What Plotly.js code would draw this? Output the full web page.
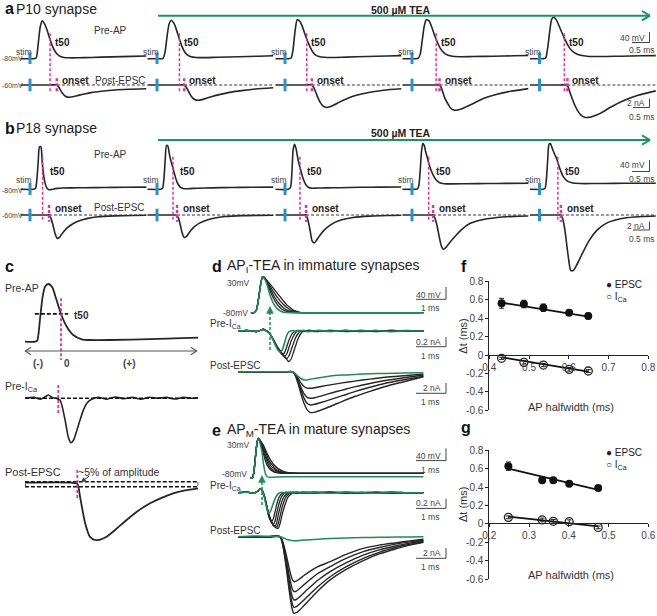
<!DOCTYPE html>
<html><head><meta charset="utf-8">
<script src="https://cdn.plot.ly/plotly-3.0.1.min.js"></script>
<style>html,body{margin:0;padding:0;background:#fff}#chart{width:657px;height:616px}</style>
</head><body><div id="chart"></div>
<script>
// ================= DATA =================
// ---- Panel a: P10 synapse, 5 sweeps (time in ms from stim) ----
const aStim = [0,0,0,0,0];
const aT50 = [0.59,0.66,0.64,0.71,0.73];
const aOnset = [0.79,0.80,0.79,0.81,0.82];
const aApT = [-0.28,0.1,0.18,0.24,0.3,0.36,0.42,0.5,0.58,0.66,0.74,0.82,0.9,1.0,1.15,1.4,1.8,2.4,3.0,3.42];
const aAp1 = [-80,-80,-78,-40,8,25,18,0,-24,-45,-60,-69,-74,-76.5,-77.5,-77.5,-76.5,-75,-73.5,-72.5];
const aAp2 = [-80,-80,-79,-60,-15,18,27,18,-2,-26,-47,-62,-70,-74.5,-76.5,-77,-76,-74.5,-73,-72];
const aAp3 = [-80,-80,-78,-52,0,28,26,12,-10,-30,-48,-62,-70,-74,-76,-76.5,-75.5,-74,-72.5,-71.5];
const aAp4 = [-80,-80,-79,-68,-30,10,28,25,8,-14,-33,-49,-60,-68,-72.5,-74.5,-74,-73,-72,-71];
const aAp5 = [-80,-80,-78,-50,-5,30,35,27,10,-8,-25,-40,-52,-62,-69,-73,-74,-73,-72,-71.5];
const aEpT = [-0.28,0.6,0.78,0.84,0.9,0.96,1.04,1.12,1.22,1.32,1.45,1.6,1.8,2.1,2.5,2.9,3.42];
const aEp1 = [0,0,0,-0.4,-1.2,-1.9,-2.5,-2.7,-2.65,-2.5,-2.25,-2.0,-1.7,-1.4,-1.1,-0.95,-0.84];
const aEp2 = [0,0,0,-0.3,-1.0,-1.9,-2.8,-3.3,-3.4,-3.25,-2.95,-2.6,-2.2,-1.7,-1.25,-0.9,-0.62];
const aEp3 = [0,0,0,-0.5,-1.5,-2.7,-3.9,-4.7,-5.0,-4.85,-4.4,-3.8,-3.1,-2.3,-1.6,-1.15,-0.84];
const aEp4 = [0,0,0,-0.3,-1.4,-2.8,-4.0,-5.0,-5.55,-5.6,-5.35,-4.8,-4.1,-3.0,-2.05,-1.4,-0.8];
const aEp5 = [0,0,0,-0.4,-1.8,-3.0,-4.5,-5.7,-6.7,-7.15,-7.2,-6.9,-6.25,-4.9,-3.4,-2.3,-1.3];

// ---- Panel b: P18 synapse ----
const bStim = [0,0,0,0,0];
const bT50 = [0.37,0.47,0.44,0.49,0.54];
const bOnset = [0.56,0.59,0.62,0.62,0.63];
const bApT = [-0.28,0.1,0.16,0.2,0.24,0.28,0.32,0.36,0.4,0.45,0.5,0.56,0.62,0.7,0.8,0.95,1.2,1.6,2.2,2.8,3.42];
const bAp1 = [-80,-80,-78,-55,-5,38,38,-5,-40,-65,-77,-81,-81,-79,-77.5,-76.5,-76,-75.5,-75,-74.5,-74];
const bAp2 = [-80,-80,-78,-55,0,42,40,20,2,-14,-32,-52,-66,-75,-78.5,-78,-77,-76,-75,-74.5,-74];
const bAp3 = [-80,-80,-75,-40,30,45,35,15,-5,-22,-40,-57,-68,-75,-77,-76.5,-76,-75.5,-74.5,-74,-73.5];
const bAp4 = [-80,-80,-79,-70,-30,25,48,42,25,8,-10,-27,-40,-53,-61,-64.5,-65,-64.5,-64,-63.5,-63];
const bAp5 = [-80,-80,-78,-55,0,45,47,38,28,16,6,-12,-28,-45,-56,-62,-64,-64,-63.5,-63,-63];
const bEpT = [-0.28,0.5,0.56,0.62,0.68,0.74,0.8,0.86,0.92,1.0,1.1,1.25,1.45,1.7,2.0,2.5,3.0,3.42];
const bEp1 = [0,0,0,-0.8,-2.4,-4.2,-5.2,-5.0,-4.4,-3.6,-2.8,-2.0,-1.3,-0.75,-0.4,-0.2,-0.1,-0.07];
const bEp2 = [0,0,0,-0.5,-2.0,-4.0,-5.0,-4.8,-4.2,-3.4,-2.6,-1.8,-1.15,-0.65,-0.35,-0.15,-0.08,-0.05];
const bEp3 = [0,0,0,0,-1.3,-3.5,-5.8,-6.2,-5.7,-4.8,-3.8,-2.7,-1.7,-1.0,-0.55,-0.25,-0.12,-0.07];
const bEp4 = [0,0,0,0,-0.8,-2.5,-4.8,-6.8,-7.6,-7.2,-6.2,-4.9,-3.3,-1.9,-1.15,-0.55,-0.3,-0.22];
const bEp5 = [0,0,0,0,-0.8,-3.0,-6.5,-10.0,-12.3,-12.3,-11.0,-8.7,-5.8,-3.3,-1.7,-0.65,-0.35,-0.22];

// ---- Panel c: schematic (time in ms from t50) ----
const cApT = [-1.06,-0.76,-0.7,-0.62,-0.54,-0.47,-0.37,-0.26,-0.15,0,0.17,0.36,0.61,0.85,1.44,2.62,4.04];
const cApV = [-80,-80,-78,-38.6,5.8,24.9,30,24.3,3.3,-27.2,-51.4,-67.2,-75.4,-76.8,-76.8,-74.9,-72.4];
const cHalfT = [-0.77,0.21];
const cHalfV = [-27,-27];
const cApMark = 0;
const cIcaT = [-1.06,-0.8,-0.6,-0.45,-0.37,-0.26,-0.15,-0.03,0.12,0.21,0.29,0.37,0.47,0.56,0.66,0.76,0.9,1.1,1.35,1.6,1.85,2.1,2.35,2.6,2.85,3.1,3.35,3.6,3.85,4.04];
const cIcaV = [0,0.01,-0.01,0.02,0.037,0.01,0.0,-0.02,-0.244,-0.43,-0.5,-0.47,-0.357,-0.244,-0.13,-0.056,-0.01,0.01,-0.01,0.015,-0.005,0.01,-0.01,0.012,0,0.01,-0.008,0.01,0,0.005];
const cIcaMark = -0.08;
const cEpT = [-1.06,0.3,0.48,0.56,0.71,0.85,1.0,1.15,1.34,1.59,1.93,2.26,2.62,2.94,3.3,3.65,4.04];
const cEpV = [0,0,-0.1,-1.22,-3.54,-4.71,-5.0,-4.96,-4.71,-4.13,-3.25,-2.47,-1.8,-1.34,-0.93,-0.68,-0.49];
const cEpMark = 0.48;
const cBand = [0.09,-0.35];

// ---- Panel d: AP_I-TEA, immature (time in ms) ----
const dApT = [0.42,0.52,0.6,0.68,0.74,0.8,0.86,0.93,1.04,1.15,1.26,1.37,1.48,1.59,1.7,1.8,1.91,2.02,2.2,2.6,3.5,4.5,6.04];
const dApG = [-80,-80,-72,-30,8,30,24,10,-26,-51,-66,-74,-78.5,-79.5,-80,-80,-80,-80,-80,-80,-80,-80,-80];
const dAp1 = [-80,-80,-72,-30,8,30,26,14,-12,-35,-52,-64,-72,-76.5,-78.5,-79.5,-80,-80,-80,-80,-80,-80,-80];
const dAp2 = [-80,-80,-72,-30,8,30,27,16,-4,-25,-42,-55,-65,-72,-76,-78.5,-79.5,-80,-80,-80,-80,-80,-80];
const dAp3 = [-80,-80,-72,-30,8,30,27.5,18,2,-15,-30,-44,-55,-64,-71,-75.5,-78,-79.5,-80,-80,-80,-80,-80];
const dAp4 = [-80,-80,-72,-30,8,30,28,20,8,-5,-18,-31,-44,-56,-65,-72,-76,-78.8,-79.8,-80,-80,-80,-80];
const dIcaT = [0,0.3,0.6,0.72,0.82,0.9,0.99,1.1,1.2,1.3,1.37,1.44,1.51,1.58,1.65,1.72,1.8,1.88,1.96,2.05,2.14,2.3,2.6,3.0,3.5,4.0,4.5,5.0,5.5,6.04];
const dIcaG = [0,0.01,-0.01,0.01,0.035,0.01,-0.02,-0.12,-0.26,-0.38,-0.42,-0.38,-0.25,-0.1,-0.02,0,0.01,-0.01,0.01,0,0.01,-0.01,0.01,-0.005,0.01,0,0.01,-0.01,0.005,0];
const dIca1 = [0,0.01,-0.01,0.01,0.035,0.01,-0.02,-0.12,-0.25,-0.36,-0.42,-0.46,-0.44,-0.33,-0.2,-0.1,-0.03,0,0.01,0,-0.01,0.01,0,0.01,-0.01,0.01,0,0.01,-0.005,0];
const dIca2 = [0,0.01,-0.01,0.01,0.035,0.01,-0.02,-0.12,-0.24,-0.35,-0.41,-0.47,-0.51,-0.47,-0.35,-0.22,-0.11,-0.03,0,0.01,0,-0.01,0.01,0,0.01,-0.01,0,0.01,0,0];
const dIca3 = [0,0.01,-0.01,0.01,0.035,0.01,-0.02,-0.11,-0.23,-0.34,-0.4,-0.46,-0.51,-0.55,-0.51,-0.4,-0.26,-0.13,-0.05,0,0.01,0,-0.01,0.01,0,0.01,-0.01,0,0.01,0];
const dIca4 = [0,0.01,-0.01,0.01,0.035,0.01,-0.02,-0.11,-0.22,-0.33,-0.39,-0.45,-0.51,-0.56,-0.61,-0.57,-0.44,-0.29,-0.15,-0.05,0,0.01,0,-0.01,0.01,0,0.01,-0.01,0,0];
const dEpT = [0,1.0,1.6,1.75,1.85,1.95,2.05,2.15,2.25,2.35,2.5,2.7,3.0,3.4,3.8,4.3,4.8,5.4,6.04];
const dEpG = [0,0,0,0,-0.4,-1.1,-1.7,-2.05,-2.05,-1.9,-1.7,-1.45,-1.1,-0.85,-0.68,-0.52,-0.42,-0.33,-0.25];
const dEp1 = [0,0,0,0,-0.4,-1.5,-2.8,-3.7,-4.1,-4.15,-4.0,-3.7,-3.3,-2.8,-2.35,-1.85,-1.4,-1.0,-0.6];
const dEp2 = [0,0,0,0,-0.5,-2.0,-3.9,-5.5,-6.4,-6.65,-6.5,-6.1,-5.4,-4.6,-3.8,-2.95,-2.2,-1.5,-0.83];
const dEp3 = [0,0,0,0,-0.6,-2.4,-4.6,-6.6,-7.9,-8.3,-8.15,-7.7,-7.0,-6.0,-5.0,-3.9,-2.9,-2.0,-1.1];
const dEp4 = [0,0,0,0,-0.7,-2.8,-5.5,-7.9,-9.5,-10.2,-10.1,-9.6,-8.7,-7.4,-6.2,-4.9,-3.7,-2.5,-1.25];

// ---- Panel e: AP_M-TEA, mature ----
const eApT = [0.39,0.47,0.52,0.57,0.62,0.66,0.7,0.74,0.78,0.83,0.89,0.95,1.02,1.1,1.2,1.33,1.5,1.7,2.0,2.5,3.5,4.5,6.04];
const eApG = [-91,-90,-70,-25,15,28,20,5,-12,-48,-76,-86,-88.5,-88.5,-88,-87.5,-87,-87,-86.8,-86.6,-86.5,-86.5,-86.5];
const eAp1 = [-91,-90,-70,-25,15,28,22,12,0,-18,-38,-52,-62,-69,-73.5,-75.5,-76.3,-76.5,-76.5,-76.5,-76.5,-76.5,-76.5];
const eAp2 = [-91,-90,-70,-25,15,28,23,15,5,-10,-28,-43,-55,-64,-70.5,-74,-75.8,-76.3,-76.5,-76.5,-76.5,-76.5,-76.5];
const eAp3 = [-91,-90,-70,-25,15,28,24,17,9,-3,-19,-34,-47,-57,-66,-72,-75,-76.2,-76.5,-76.5,-76.5,-76.5,-76.5];
const eAp4 = [-91,-90,-70,-25,15,28,25,19,12,2,-11,-25,-39,-50,-61,-69,-74,-76,-76.4,-76.5,-76.5,-76.5,-76.5];
const eAp5 = [-91,-90,-70,-25,15,28,25,20,14,7,-5,-17,-30,-42,-54,-64,-71.5,-75.5,-76.4,-76.5,-76.5,-76.5,-76.5];
const eIcaT = [0,0.3,0.5,0.64,0.72,0.8,0.87,0.94,0.99,1.05,1.1,1.15,1.21,1.26,1.31,1.37,1.43,1.5,1.57,1.64,1.72,1.8,1.9,2.1,2.5,3.0,3.5,4.0,4.5,5.0,5.5,6.04];
const eIcaG = [0,0.01,-0.01,0.03,0.08,0.03,-0.12,-0.32,-0.41,-0.38,-0.3,-0.21,-0.12,-0.06,-0.02,0,0.01,-0.01,0.01,0,0.01,-0.01,0.01,0,0.01,-0.01,0.01,0,-0.01,0.01,0,0];
const eIca1 = [0,0.01,-0.01,0.03,0.08,0.03,-0.1,-0.3,-0.45,-0.55,-0.58,-0.52,-0.38,-0.24,-0.13,-0.06,-0.02,0,0.01,-0.01,0,0.01,-0.01,0.01,0,0.01,-0.01,0,0.01,-0.01,0,0];
const eIca2 = [0,0.01,-0.01,0.03,0.08,0.03,-0.1,-0.29,-0.43,-0.54,-0.61,-0.63,-0.56,-0.42,-0.28,-0.15,-0.07,-0.02,0,0.01,-0.01,0,0.01,-0.01,0.01,0,0.01,-0.01,0,0.01,0,0];
const eIca3 = [0,0.01,-0.01,0.03,0.08,0.03,-0.09,-0.28,-0.42,-0.53,-0.6,-0.65,-0.67,-0.6,-0.45,-0.3,-0.17,-0.08,-0.03,0,0.01,-0.01,0,0.01,-0.01,0.01,0,-0.01,0.01,0,0,0];
const eIca4 = [0,0.01,-0.01,0.03,0.08,0.03,-0.09,-0.27,-0.41,-0.52,-0.6,-0.65,-0.68,-0.69,-0.62,-0.47,-0.31,-0.17,-0.08,-0.03,0,0.01,-0.01,0,0.01,-0.01,0.01,0,-0.01,0.01,0,0];
const eIca5 = [0,0.01,-0.01,0.03,0.08,0.03,-0.09,-0.27,-0.4,-0.51,-0.59,-0.65,-0.69,-0.71,-0.71,-0.62,-0.46,-0.3,-0.17,-0.08,-0.03,0,0.01,-0.01,0,0.01,-0.01,0.01,0,-0.01,0,0];
const eEpT = [0,0.5,1.0,1.37,1.47,1.57,1.67,1.75,1.82,1.9,2.0,2.15,2.35,2.6,3.0,3.5,4.08,4.6,5.17,5.6,6.04];
const eEpG = [0,0.15,0.12,0,-0.3,-0.6,-0.85,-0.95,-1.0,-1.0,-0.95,-0.85,-0.75,-0.62,-0.45,-0.32,-0.22,-0.16,-0.1,-0.05,0];
const eEp1 = [0,0,0,0,-1.5,-4.5,-8.0,-10.3,-11.25,-11.1,-10.6,-9.7,-8.6,-7.5,-6.25,-4.5,-2.9,-2.1,-1.5,-1.05,-0.65];
const eEp2 = [0,0,0,0,-1.8,-5.5,-9.8,-12.6,-13.75,-13.6,-13.0,-12.0,-10.7,-9.2,-7.5,-5.5,-3.75,-2.7,-1.8,-1.3,-0.83];
const eEp3 = [0,0,0,0,-2.1,-6.3,-11.2,-14.5,-15.8,-15.7,-15.1,-14.0,-12.6,-10.9,-8.75,-6.6,-4.6,-3.3,-2.25,-1.6,-1.0];
const eEp4 = [0,0,0,0,-2.4,-7.1,-12.6,-16.2,-17.65,-17.5,-16.9,-15.8,-14.3,-12.5,-10.0,-7.6,-5.4,-3.9,-2.65,-1.9,-1.25];
const eEp5 = [0,0,0,0,-2.6,-7.7,-13.6,-17.6,-19.15,-19.0,-18.4,-17.2,-15.6,-13.6,-10.8,-8.3,-6.0,-4.3,-3.0,-2.1,-1.4];

// ---- Panels f, g: delta t vs AP halfwidth ----
const fHalf = [0.431,0.487,0.536,0.601,0.649];
const fEpsc = [0.562,0.554,0.514,0.46,0.424];
const fEpscErr = [0.054,0.041,0.04,0.025,0.03];
const fIca = [-0.036,-0.08,-0.109,-0.156,-0.174];
const fIcaErr = [0.012,0.018,0.018,0.02,0.015];
const fFitX = [0.431,0.649];
const fFitEpsc = [0.569,0.417];
const fFitIca = [-0.025,-0.18];
const gHalf = [0.248,0.333,0.361,0.401,0.474];
const gEpsc = [0.626,0.473,0.473,0.437,0.389];
const gEpscErr = [0.045,0.02,0.018,0.02,0.018];
const gIca = [0.072,0.044,0.029,0.025,-0.037];
const gIcaErr = [0.015,0.02,0.02,0.02,0.015];
const gFitX = [0.248,0.474];
const gFitEpsc = [0.60,0.37];
const gFitIca = [0.08,-0.025];
const dtTicks = [-0.6,-0.4,-0.2,0,0.2,0.4,0.6,0.8];
const fXTicks = [0.4,0.5,0.6,0.7,0.8];
const gXTicks = [0.2,0.3,0.4,0.5,0.6];

// ================= BUILD =================
const W=657,H=616;
const FONT='"Liberation Sans", Arial, sans-serif';
const fx=p=>p/W, fy=p=>1-p/H;
const BLACK='#262626', GREEN='#1d8b5b', PINK='#d9388f', BLUE='#2a93cf', ARROWG='#1a9466';
const layout={width:W,height:H,margin:{l:0,r:0,t:0,b:0,pad:0},paper_bgcolor:'#fff',plot_bgcolor:'rgba(0,0,0,0)',
  showlegend:false,font:{family:FONT,size:10,color:'#222'},shapes:[],annotations:[]};
const data=[];
let nAx=0;
function axes(x0,x1,xr,yTop,yBot,yrg,xo,yo){
  nAx++; const s=nAx===1?'':String(nAx);
  layout['xaxis'+s]=Object.assign({domain:[fx(x0),fx(x1)],range:xr,visible:false,fixedrange:true,anchor:'y'+s},xo||{});
  layout['yaxis'+s]=Object.assign({domain:[fy(yBot),fy(yTop)],range:yrg,visible:false,fixedrange:true,anchor:'x'+s},yo||{});
  return {x:'x'+s,y:'y'+s};
}
function yr(top,bot,base,k,ref){return [ref-(bot-base)/k, ref+(base-top)/k];}
function trace(ax,x,y,color,width,dash){
  data.push({type:'scatter',mode:'lines',x:x,y:y,xaxis:ax.x,yaxis:ax.y,hoverinfo:'skip',
    line:{color:color,width:width,shape:dash?'linear':'spline',smoothing:0.7,dash:dash||'solid'}});
}
function txt(text,x,y,o){
  const base={text:text,x:fx(x),y:fy(y),xref:'paper',yref:'paper',showarrow:false,xanchor:'left',yanchor:'middle',
    font:{size:10,color:'#222',family:FONT}};
  layout.annotations.push(Object.assign(base,o||{}));
}
const small={size:8.5,color:'#444',family:FONT};
const tiny={size:7,color:'#444',family:FONT};
function seg(x0,y0,x1,y1,color,width,dash){
  layout.shapes.push({type:'line',xref:'paper',yref:'paper',x0:fx(x0),y0:fy(y0),x1:fx(x1),y1:fy(y1),
    line:{color:color||'#333',width:width||1,dash:dash||'solid'}});
}
function poly(pts,color,fill,width){
  const d=pts.map((p,i)=>(i?'L':'M')+fx(p[0]).toFixed(5)+','+fy(p[1]).toFixed(5)).join(' ')+(fill?' Z':'');
  layout.shapes.push({type:'path',xref:'paper',yref:'paper',path:d,fillcolor:fill?color:'rgba(0,0,0,0)',
    line:{color:color,width:width||1}});
}
function scaleBar(t1,y1,vx,vy0,vy1,hx0,t2,y2,r1,r2){
  txt(t1,r1,y1,{xanchor:'right',font:small});
  seg(vx,vy0,vx,vy1,'#444',1); seg(hx0,vy1,vx,vy1,'#444',1);
  txt(t2,r2,y2,{xanchor:'right',font:small});
}

// ---- sweeps panels a & b ----
const stimPx=[30,157,285,412,539.5];
function sweepPanel(c){
  for(let i=0;i<5;i++){
    const sx=stimPx[i], xr=[-10/34,117/34];
    const apAx=axes(sx-10,sx+117,xr,c.apTop,c.apBot,yr(c.apTop,c.apBot,c.apBase,0.36,-80));
    const epAx=axes(sx-10,sx+117,xr,c.epTop,c.epBot,yr(c.epTop,c.epBot,c.epBase,4.5,0));
    trace(apAx,c.apT,c.apV[i],BLACK,1.6);
    trace(epAx,c.epT,c.epV[i],BLACK,1.6);
    layout.shapes.push({type:'line',xref:epAx.x,yref:epAx.y,x0:c.onset[i],x1:c.epT[c.epT.length-1],y0:0,y1:0,
      line:{color:'#333',width:1,dash:'3px,2px'}});
    data.push({type:'scatter',mode:'markers',x:[c.stim[i]],y:[c.apV[i][0]],xaxis:apAx.x,yaxis:apAx.y,hoverinfo:'skip',
      marker:{symbol:'line-ns',size:9,line:{color:BLUE,width:3}}});
    data.push({type:'scatter',mode:'markers',x:[c.stim[i]],y:[c.epV[i][0]],xaxis:epAx.x,yaxis:epAx.y,hoverinfo:'skip',
      marker:{symbol:'line-ns',size:9,line:{color:BLUE,width:3}}});
    layout.shapes.push({type:'line',xref:apAx.x,yref:'paper',x0:c.t50[i],x1:c.t50[i],y0:fy(c.t50Top),y1:fy(c.t50Bot),
      line:{color:PINK,width:1.5,dash:'3px,2px'}});
    layout.shapes.push({type:'line',xref:epAx.x,yref:'paper',x0:c.onset[i],x1:c.onset[i],y0:fy(c.onTop),y1:fy(c.onBot),
      line:{color:PINK,width:2.5,dash:'3px,2px'}});
    layout.annotations.push({xref:apAx.x,yref:'paper',x:c.stim[i],y:fy(c.stimY),xanchor:'right',yanchor:'middle',xshift:3.5,
      text:'stim',showarrow:false,font:small});
    layout.annotations.push({xref:apAx.x,yref:'paper',x:c.t50[i],y:fy(c.t50Y),xanchor:'left',yanchor:'middle',xshift:c.t50Shift,
      text:'<b>t50</b>',showarrow:false,font:{size:10,color:'#222',family:FONT}});
    layout.annotations.push({xref:epAx.x,yref:'paper',x:c.onset[i],y:fy(c.onY),xanchor:'left',yanchor:'middle',xshift:c.onShift,
      text:'<b>onset</b>',showarrow:false,font:{size:10,color:'#222',family:FONT}});
  }
}
sweepPanel({stim:aStim,t50:aT50,onset:aOnset,apT:aApT,apV:[aAp1,aAp2,aAp3,aAp4,aAp5],epT:aEpT,epV:[aEp1,aEp2,aEp3,aEp4,aEp5],
  apTop:12,apBot:64,apBase:58.7,epTop:74,epBot:122,epBase:85,t50Top:33.3,t50Bot:93,onTop:78.3,onBot:91.7,
  stimY:51.7,t50Y:42.7,t50Shift:2.5,onY:80,onShift:3});
sweepPanel({stim:bStim,t50:bT50,onset:bOnset,apT:bApT,apV:[bAp1,bAp2,bAp3,bAp4,bAp5],epT:bEpT,epV:[bEp1,bEp2,bEp3,bEp4,bEp5],
  apTop:136,apBot:195,apBase:189.3,epTop:204,epBot:277,epBase:215,t50Top:156.7,t50Bot:221.7,onTop:205,onBot:221.7,
  stimY:180,t50Y:171,t50Shift:5,onY:208,onShift:4});

// labels a
txt('<b>a</b>',3,8.5,{font:{size:16,color:'#111',family:FONT}});
txt('P10 synapse',14,8.5,{font:{size:14,color:'#222',family:FONT}});
txt('<b>500 µM TEA</b>',401,9.5,{xanchor:'center',font:{size:10.5,color:'#222',family:FONT}});
seg(158,15.7,649,15.7,ARROWG,2); seg(642,11,650,15.7,ARROWG,2); seg(642,20.4,650,15.7,ARROWG,2);
txt('Pre-AP',92,30.7,{font:{size:10,color:'#333',family:FONT}});
txt('Post-EPSC',93,80,{font:{size:10,color:'#333',family:FONT}});
txt('-80mV',24,59,{xanchor:'right',font:tiny,borderpad:0});
txt('-60mV',24,85,{xanchor:'right',font:tiny,borderpad:0});
scaleBar('40 mV',38,649.5,32,42.5,632,'0.5 ms',50.5,646.5,657);
scaleBar('2 nA',103,649.5,98.5,107.5,633,'0.5 ms',116.5,646.5,657);
// labels b
txt('<b>b</b>',3,128.5,{font:{size:16,color:'#111',family:FONT}});
txt('P18 synapse',14,128.5,{font:{size:14,color:'#222',family:FONT}});
txt('<b>500 µM TEA</b>',401,132.7,{xanchor:'center',font:{size:10.5,color:'#222',family:FONT}});
seg(158,140,649,140,ARROWG,2); seg(642,135.3,650,140,ARROWG,2); seg(642,144.7,650,140,ARROWG,2);
txt('Pre-AP',92,154,{font:{size:10,color:'#333',family:FONT}});
txt('Post-EPSC',92,207.7,{font:{size:10,color:'#333',family:FONT}});
txt('-80mV',24,190,{xanchor:'right',font:tiny,borderpad:0});
txt('-60mV',24,215,{xanchor:'right',font:tiny,borderpad:0});
scaleBar('40 mV',165,649.5,160,171.5,632,'0.5 ms',178.5,646.5,657);
scaleBar('2 nA',226,649.5,221.5,230,633,'0.5 ms',239.3,646.5,657);

// ---- panel c ----
{
  const xr=[(25-61)/34,(198.3-61)/34];
  const apAx=axes(25,198.3,xr,278,346,yr(278,346,341.7,0.5245,-80));
  const caAx=axes(25,198.3,xr,380,450,yr(380,450,398.3,88.8,0));
  const epAx=axes(25,198.3,xr,466,546,yr(466,546,482.7,11.46,0));
  trace(apAx,cApT,cApV,BLACK,1.8);
  trace(apAx,cHalfT,cHalfV,'#111',1.6,'4px,2px');
  layout.shapes.push({type:'line',xref:apAx.x,yref:'paper',x0:cApMark,x1:cApMark,y0:fy(298.3),y1:fy(360),line:{color:PINK,width:1.8,dash:'3px,2px'}});
  trace(caAx,cIcaT,cIcaV,BLACK,1.6);
  layout.shapes.push({type:'line',xref:caAx.x,yref:caAx.y,x0:cIcaT[0],x1:cIcaT[cIcaT.length-1],y0:0,y1:0,line:{color:'#111',width:1.5,dash:'4px,2px'}});
  layout.shapes.push({type:'line',xref:caAx.x,yref:'paper',x0:cIcaMark,x1:cIcaMark,y0:fy(385),y1:fy(413.3),line:{color:PINK,width:1.8,dash:'3px,2px'}});
  trace(epAx,cEpT,cEpV,BLACK,1.8);
  layout.shapes.push({type:'rect',xref:epAx.x,yref:epAx.y,x0:cEpT[0],x1:cEpT[cEpT.length-1],y0:cBand[1],y1:cBand[0],line:{color:'#111',width:1.5,dash:'4px,2px'}});
  layout.shapes.push({type:'line',xref:epAx.x,yref:'paper',x0:cEpMark,x1:cEpMark,y0:fy(470),y1:fy(498.3),line:{color:PINK,width:1.8,dash:'3px,2px'}});
}
txt('<b>c</b>',3,266.7,{font:{size:16,color:'#111',family:FONT}});
txt('Pre-AP',3,288.3,{font:{size:10.5,color:'#333',family:FONT}});
txt('<b>t50</b>',71.5,315,{font:{size:10,color:'#333',family:FONT}});
seg(25.5,351,196.5,351,'#555',1.1);
poly([[31,347.3],[25.3,351],[31,354.7]],'#555',false,1.1);
poly([[190.8,347.3],[196.7,351],[190.8,354.7]],'#555',false,1.1);
txt('<b>(-)</b>',38,363.3,{xanchor:'center',font:{size:10,color:'#444',family:FONT}});
txt('<b>0</b>',66.7,363.3,{xanchor:'center',font:{size:10,color:'#444',family:FONT}});
txt('<b>(+)</b>',129,363.3,{xanchor:'center',font:{size:10,color:'#444',family:FONT}});
txt('Pre-I<sub>Ca</sub>',3,387.3,{font:{size:10.5,color:'#333',family:FONT}});
txt('Post-EPSC',3,471.7,{font:{size:11,color:'#333',family:FONT}});
txt('~5% of amplitude',76,471.7,{font:{size:10.5,color:'#333',family:FONT}});
seg(89,476.2,84.5,479.5,'#333',1);
poly([[81.5,481.7],[85.9,480.9],[83.5,477.7]],'#333',true,0.5);

// ---- panels d & e ----
function teaPanel(c){
  const xr=[0,186/30.7];
  const apAx=axes(238,424,xr,c.apTop,c.apBot,yr(c.apTop,c.apBot,c.apBase,c.apK,-80));
  const caAx=axes(238,424,xr,c.caTop,c.caBot,yr(c.caTop,c.caBot,c.caBase,50,0));
  const epAx=axes(238,424,xr,c.epTop,c.epBot,yr(c.epTop,c.epBot,c.epBase,4,0));
  c.apB.forEach(v=>trace(apAx,c.apT,v,BLACK,1.3));
  trace(apAx,c.apT,c.apG,GREEN,1.5);
  c.caB.forEach(v=>trace(caAx,c.caT,v,BLACK,1.3));
  trace(caAx,c.caT,c.caG,GREEN,1.6);
  c.epB.forEach(v=>trace(epAx,c.epT,v,BLACK,1.4));
  trace(epAx,c.epT,c.epG,GREEN,1.5);
}
teaPanel({apT:dApT,apG:dApG,apB:[dAp1,dAp2,dAp3,dAp4],caT:dIcaT,caG:dIcaG,caB:[dIca1,dIca2,dIca3,dIca4],
  epT:dEpT,epG:dEpG,epB:[dEp1,dEp2,dEp3,dEp4],
  apTop:270,apBot:318,apBase:312.7,apK:0.327,caTop:320,caBot:368,caBase:331,epTop:364,epBot:420,epBase:371.7});
teaPanel({apT:eApT,apG:eApG,apB:[eAp1,eAp2,eAp3,eAp4,eAp5],caT:eIcaT,caG:eIcaG,caB:[eIca1,eIca2,eIca3,eIca4,eIca5],
  epT:eEpT,epG:eEpG,epB:[eEp1,eEp2,eEp3,eEp4,eEp5],
  apTop:432,apBot:482,apBase:474.5,apK:0.334,caTop:482,caBot:535,caBase:492.7,epTop:528,epBot:616,epBase:536.7});
// d labels
txt('<b>d</b>',210,266,{font:{size:16,color:'#111',family:FONT}});
txt('AP<sub>I</sub>-TEA in immature synapses',225,266,{font:{size:14,color:'#222',family:FONT}});
txt('30mV',252,283.3,{xanchor:'right',font:small});
txt('-80mV',250,312.5,{xanchor:'right',font:small});
txt('Pre-I<sub>Ca</sub>',208,324.3,{font:{size:10,color:'#333',family:FONT}});
txt('Post-EPSC',208,365,{font:{size:10,color:'#333',family:FONT}});
seg(270,350,270,313,GREEN,1.5,'3px,2px');
poly([[270,306.5],[266.6,313.5],[273.4,313.5]],GREEN,true,0.5);
scaleBar('40 mV',295,446,287,299.3,416,'1 ms',308.3,443,441);
scaleBar('0.2 nA',341.7,446,337,346.7,416,'1 ms',355.7,443,441);
scaleBar('2 nA',388.3,446,383,393.3,416,'1 ms',401.7,443,441);
// e labels
txt('<b>e</b>',210,430,{font:{size:16,color:'#111',family:FONT}});
txt('AP<sub>M</sub>-TEA in mature synapses',225,430,{font:{size:14,color:'#222',family:FONT}});
txt('30mV',252,445,{xanchor:'right',font:small});
txt('-80mV',249,474,{xanchor:'right',font:small});
txt('Pre-I<sub>Ca</sub>',208,486,{font:{size:10,color:'#333',family:FONT}});
txt('Post-EPSC',208,530,{font:{size:10,color:'#333',family:FONT}});
seg(262,505,262,482.5,GREEN,1.5,'3px,2px');
poly([[262,475.5],[258.6,482.5],[265.4,482.5]],GREEN,true,0.5);
scaleBar('40 mV',456.3,446,448.3,460.6,416,'1 ms',469.6,443,441);
scaleBar('0.2 nA',503.4,446,498.7,508.4,416,'1 ms',517.4,443,441);
scaleBar('2 nA',553.3,446,548,558.3,416,'1 ms',566.7,443,441);

// ---- panels f & g ----
function scatterPanel(c){
  const tickfont={size:10,color:'#444',family:FONT};
  const ax=axes(489.3,648.3,c.xr,c.yTop,c.yBot,[-0.6,0.8],
    {visible:true,anchor:'free',position:fy(c.zeroPx),showline:true,linecolor:'#222',linewidth:1,ticks:'outside',ticklen:3,
     tickwidth:1,tickcolor:'#222',tickvals:c.xticks,ticktext:c.xticks.map(String),tickfont:tickfont,showgrid:false,zeroline:false},
    {visible:true,showline:true,linecolor:'#222',linewidth:1,ticks:'outside',ticklen:3,tickwidth:1,tickcolor:'#222',
     tickvals:dtTicks,ticktext:dtTicks.map(String),tickfont:tickfont,showgrid:false,zeroline:false});
  data.push({type:'scatter',mode:'lines',x:c.fitX,y:c.fitE,xaxis:ax.x,yaxis:ax.y,line:{color:'#111',width:1.8},hoverinfo:'skip'});
  data.push({type:'scatter',mode:'lines',x:c.fitX,y:c.fitI,xaxis:ax.x,yaxis:ax.y,line:{color:'#111',width:1.8},hoverinfo:'skip'});
  data.push({type:'scatter',mode:'markers',x:c.x,y:c.e,xaxis:ax.x,yaxis:ax.y,hoverinfo:'skip',
    error_y:{type:'data',array:c.eErr,visible:true,color:'#222',thickness:1,width:2.5},
    marker:{symbol:'circle',size:8,color:'#111'}});
  data.push({type:'scatter',mode:'markers',x:c.x,y:c.i,xaxis:ax.x,yaxis:ax.y,hoverinfo:'skip',
    error_y:{type:'data',array:c.iErr,visible:true,color:'#222',thickness:1,width:2.5},
    marker:{symbol:'circle-open',size:8,color:'#222',line:{width:1.3}}});
  txt('● EPSC',604,c.yTop+2.6,{font:{size:10,color:'#222',family:FONT}});
  txt('○ I<sub>Ca</sub>',604,c.yTop+15.3,{font:{size:10,color:'#222',family:FONT}});
  txt('Δt (ms)',463,c.zeroPx-18.3,{xanchor:'center',textangle:-90,font:{size:11,color:'#333',family:FONT}});
  txt('AP halfwidth (ms)',570.5,c.zeroPx+51.7,{xanchor:'center',font:{size:11,color:'#333',family:FONT}});
}
scatterPanel({xr:[0.4,0.8],xticks:fXTicks,yTop:281.4,yBot:410.2,zeroPx:355,x:fHalf,e:fEpsc,eErr:fEpscErr,i:fIca,iErr:fIcaErr,
  fitX:fFitX,fitE:fFitEpsc,fitI:fFitIca});
scatterPanel({xr:[0.2,0.6],xticks:gXTicks,yTop:450.1,yBot:579.4,zeroPx:523.3,x:gHalf,e:gEpsc,eErr:gEpscErr,i:gIca,iErr:gIcaErr,
  fitX:gFitX,fitE:gFitEpsc,fitI:gFitIca});
txt('<b>f</b>',459,266,{font:{size:16,color:'#111',family:FONT}});
txt('<b>g</b>',459,427,{font:{size:16,color:'#111',family:FONT}});

Plotly.newPlot('chart',data,layout,{staticPlot:true,displayModeBar:false});
</script></body></html>
